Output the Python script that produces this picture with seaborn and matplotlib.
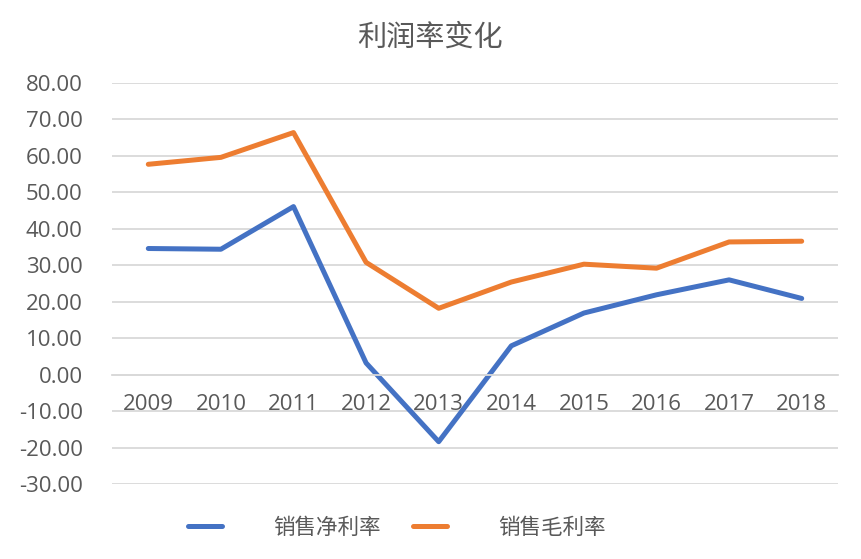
import matplotlib
matplotlib.use('Agg')
import matplotlib.pyplot as plt
import seaborn as sns
import pandas as pd

years = ['2009', '2010', '2011', '2012', '2013', '2014', '2015', '2016', '2017', '2018']
net_margin = [34.6, 34.4, 46.1, 3.2, -18.4, 7.9, 16.9, 21.9, 26.0, 20.9]
gross_margin = [57.7, 59.6, 66.4, 30.8, 18.2, 25.4, 30.3, 29.2, 36.4, 36.6]
series_names = ['销售净利率', '销售毛利率']
colors = ['#4472C4', '#ED7D31']
y_ticks = list(range(-30, 81, 10))
title = '利润率变化'

sns.set_theme(style='white')
plt.rcParams['font.family'] = ['Noto Sans CJK SC', 'DejaVu Sans']

df = pd.DataFrame({
    '年份': years * 2,
    '值': net_margin + gross_margin,
    '系列': [series_names[0]] * len(years) + [series_names[1]] * len(years),
})

W, H = 861, 559
fig = plt.figure(figsize=(W / 100, H / 100), dpi=100)
ax = fig.add_axes([112 / W, 1 - 484 / H, (838 - 112) / W, (484 - 83) / H])

sns.lineplot(data=df, x='年份', y='值', hue='系列', hue_order=series_names,
             palette=colors, linewidth=3.6, ax=ax, sort=False,
             solid_capstyle='round', solid_joinstyle='round')

handles, labels = ax.get_legend_handles_labels()
ax.get_legend().remove()

ax.set_xlim(-0.5, len(years) - 0.5)
ax.set_ylim(y_ticks[0], y_ticks[-1])
ax.set_yticks(y_ticks)
ax.set_yticklabels([f'{v:.2f}' for v in y_ticks])
ax.set_xlabel('')
ax.set_ylabel('')
ax.yaxis.grid(True, color='#d9d9d9', linewidth=1.3)
ax.xaxis.grid(False)
ax.set_axisbelow(True)
for s in ['top', 'right', 'left']:
    ax.spines[s].set_visible(False)
ax.spines['bottom'].set_position(('data', 0))
ax.spines['bottom'].set_color('#d9d9d9')
ax.spines['bottom'].set_linewidth(1.3)
ax.tick_params(axis='y', length=0, pad=21, labelsize=16, labelcolor='#595959')
ax.tick_params(axis='x', length=0, pad=14, labelsize=16, labelcolor='#595959')
for lbl in ax.get_xticklabels() + ax.get_yticklabels():
    lbl.set_family(['Open Sans', 'DejaVu Sans'])

fig.text(430 / W, 1 - 38 / H, title, fontsize=21, color='#595959', ha='center', va='center')

leg = fig.legend(handles, labels, loc='center', bbox_to_anchor=(397 / W, 1 - 528 / H),
                 ncol=2, frameon=False, fontsize=15.5, handlelength=1.55,
                 handletextpad=2.4, columnspacing=1.5)
for t in leg.get_texts():
    t.set_color('#595959')
for h in leg.get_lines():
    h.set_linewidth(3.6)
    h.set_solid_capstyle('round')

fig.savefig('out.png', dpi=100)
